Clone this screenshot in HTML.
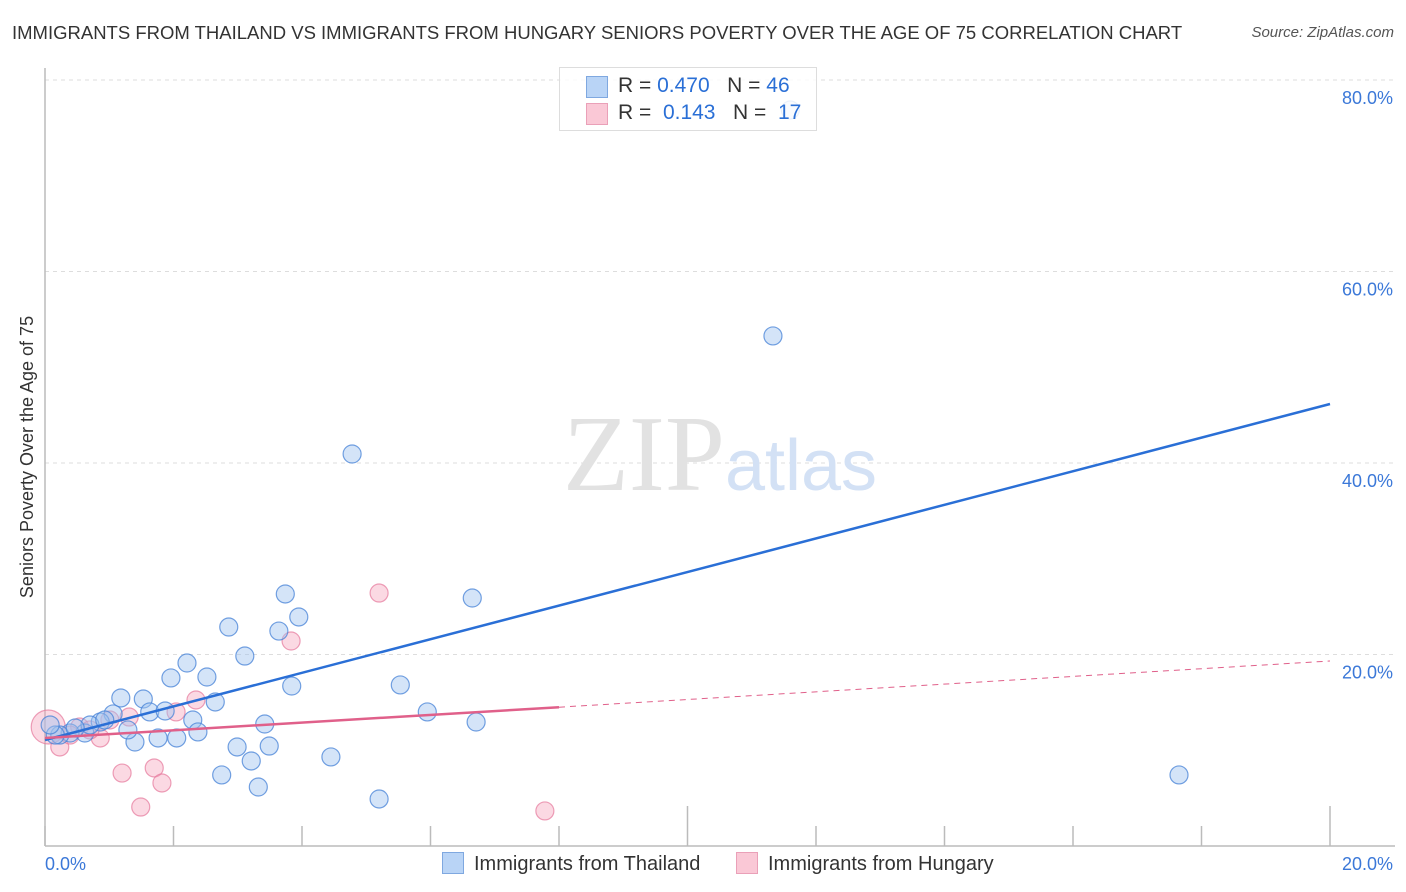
<!DOCTYPE html>
<html><head><meta charset="utf-8">
<style>
body{margin:0;background:#fff;font-family:"Liberation Sans",sans-serif;}
#wrap{position:relative;width:1406px;height:892px;overflow:hidden;}
.t{position:absolute;white-space:nowrap;}
</style></head>
<body>
<div id="wrap">
<div class="t" style="left:12px;top:22px;font-size:18.5px;color:#333;">IMMIGRANTS FROM THAILAND VS IMMIGRANTS FROM HUNGARY SENIORS POVERTY OVER THE AGE OF 75 CORRELATION CHART</div>
<div class="t" style="right:12px;top:24px;font-size:15px;color:#555;font-style:italic;">Source: ZipAtlas.com</div>
<svg id="chart" width="1406" height="892" style="position:absolute;left:0;top:0"></svg>
</div>
<script>
const xTicks=[0,2,4,6,8,10,12,14,16,18,20];
const yTicks=[20,40,60,80];
const thaiX=[4.78,11.33,3.74,6.65,2.86,3.64,3.95,3.11,2.21,1.96,2.52,3.84,5.53,1.18,1.53,2.65,1.63,1.87,2.30,5.95,6.71,1.06,3.42,2.38,1.40,1.76,2.05,2.99,3.49,3.21,4.45,2.75,3.32,5.20,17.65,11.60,1.29,0.86,0.62,0.39,0.23,0.70,0.93,0.47,0.16,0.08];
const thaiY=[40.94,53.27,26.32,25.90,22.87,22.45,23.92,19.84,19.11,17.55,17.65,16.71,16.82,15.46,15.35,15.04,14.00,14.10,13.16,14.00,12.95,13.79,12.74,11.91,10.86,11.28,11.28,10.34,10.44,8.88,9.30,7.42,6.16,4.91,7.42,76.87,12.12,12.95,11.80,11.80,11.59,12.64,13.16,12.32,11.59,12.64];
const hunX=[5.20,3.83,2.35,2.04,1.31,1.01,0.54,0.86,0.23,1.20,1.70,1.82,1.49,7.78,0.05,0.39,0.70];
const hunY=[26.42,21.41,15.25,14.00,13.47,13.16,12.43,11.28,10.34,7.62,8.15,6.58,4.07,3.66,12.43,11.59,12.12];
const thaiTrend=[11.07,46.16];
const hunTrend=[11.28,19.32];
const hunSolidEnd=8;

const svg=document.getElementById('chart');
const NS='http://www.w3.org/2000/svg';
const X0=45,X1=1330,Y0=846,YPER=191.5/20;
const sx=v=>X0+(X1-X0)*v/20;
const sy=v=>Y0-v*YPER;
function mk(tag,attrs){const e=document.createElementNS(NS,tag);for(const k in attrs)e.setAttribute(k,attrs[k]);svg.appendChild(e);return e;}

yTicks.forEach(v=>{
  const g=mk('line',{x1:X0,x2:1395,y1:sy(v),y2:sy(v),stroke:'#ddd','stroke-dasharray':'4,4'});
  
  
  const t=mk('text',{x:1393,y:sy(v)+24,'text-anchor':'end','font-size':18,fill:'#3b78d8','font-family':'Liberation Sans, sans-serif'});
  t.textContent=v.toFixed(1)+'%';
  
  
});
const ya=mk('line',{x1:X0,x2:X0,y1:68,y2:Y0,stroke:'#bbb','stroke-width':1.5});


const xa=mk('line',{x1:X0,x2:1395,y1:Y0,y2:Y0,stroke:'#bbb','stroke-width':1.5});


xTicks.forEach((v,i)=>{
  const tall=(v===10||v===20);
  const tk=mk('line',{x1:sx(v),x2:sx(v),y1:tall?806:826,y2:Y0,stroke:'#bbb','stroke-width':1.5});
  
  
});
[[0,'start',45],[20,'end',1393]].forEach(([v,a,x])=>{
  const t=mk('text',{x:x,y:870,'text-anchor':a,'font-size':18,fill:'#3b78d8','font-family':'Liberation Sans, sans-serif'});
  t.textContent=v.toFixed(1)+'%';
  
  
});
const yt=mk('text',{x:0,y:0,transform:'translate(33,457) rotate(-90)','text-anchor':'middle','font-size':18,fill:'#333','font-family':'Liberation Sans, sans-serif'});
yt.textContent='Seniors Poverty Over the Age of 75';


const wm=mk('text',{x:720,y:490,'text-anchor':'middle','font-size':108,'font-family':'Liberation Serif, serif',fill:'#e2e2e2'});
wm.innerHTML='ZIP<tspan font-family="Liberation Sans, sans-serif" font-size="72" fill="#d3e1f5">atlas</tspan>';


function pts(xs,ys,fill,stroke,name){
  xs.forEach((x,i)=>{
    const r=(name==='hungary-point'&&i===14)?17:9;
    const c=mk('circle',{cx:sx(x),cy:sy(ys[i]),r:r,fill:fill,stroke:stroke,'stroke-width':1.2});
    
    
  });
}
pts(hunX,hunY,'rgba(245,160,185,0.4)','rgba(230,120,155,0.7)','hungary-point');
pts(thaiX,thaiY,'rgba(160,195,240,0.45)','rgba(70,130,215,0.75)','thailand-point');
const tl=mk('line',{x1:sx(0),y1:sy(thaiTrend[0]),x2:sx(20),y2:sy(thaiTrend[1]),stroke:'#2a6fd6','stroke-width':2.5});


const hy=v=>hunTrend[0]+(hunTrend[1]-hunTrend[0])*v/20;
const hl=mk('line',{x1:sx(0),y1:sy(hy(0)),x2:sx(hunSolidEnd),y2:sy(hy(hunSolidEnd)),stroke:'#e0608a','stroke-width':2.5});


const hd=mk('line',{x1:sx(hunSolidEnd),y1:sy(hy(hunSolidEnd)),x2:sx(20),y2:sy(hy(20)),stroke:'#e0608a','stroke-width':1,'stroke-dasharray':'6,5'});


</script>
<div class="t" style="left:559px;top:67px;width:256px;height:62px;border:1px solid #ddd;background:rgba(255,255,255,0.85);font-size:21px;color:#333;">
  <div style="position:absolute;left:26px;top:8px;width:20px;height:20px;background:#b9d4f6;border:1px solid #7fa8e0;"></div>
  <div style="position:absolute;left:58px;top:6px;">R = <span style="color:#2a6fd6">0.470</span>&nbsp;&nbsp;&nbsp;N = <span style="color:#2a6fd6">46</span></div>
  <div style="position:absolute;left:26px;top:35px;width:20px;height:20px;background:#fac8d6;border:1px solid #eaa0b8;"></div>
  <div style="position:absolute;left:58px;top:33px;">R = &nbsp;<span style="color:#2a6fd6">0.143</span>&nbsp;&nbsp;&nbsp;N = &nbsp;<span style="color:#2a6fd6">17</span></div>
</div>
<div class="t" style="left:442px;top:852px;font-size:20px;color:#333;">
  <span style="display:inline-block;width:20px;height:20px;background:#b9d4f6;border:1px solid #7fa8e0;vertical-align:-4px;margin-right:10px;"></span>Immigrants from Thailand</div>
<div class="t" style="left:736px;top:852px;font-size:20px;color:#333;">
  <span style="display:inline-block;width:20px;height:20px;background:#fac8d6;border:1px solid #eaa0b8;vertical-align:-4px;margin-right:10px;"></span>Immigrants from Hungary</div>
</body></html>
